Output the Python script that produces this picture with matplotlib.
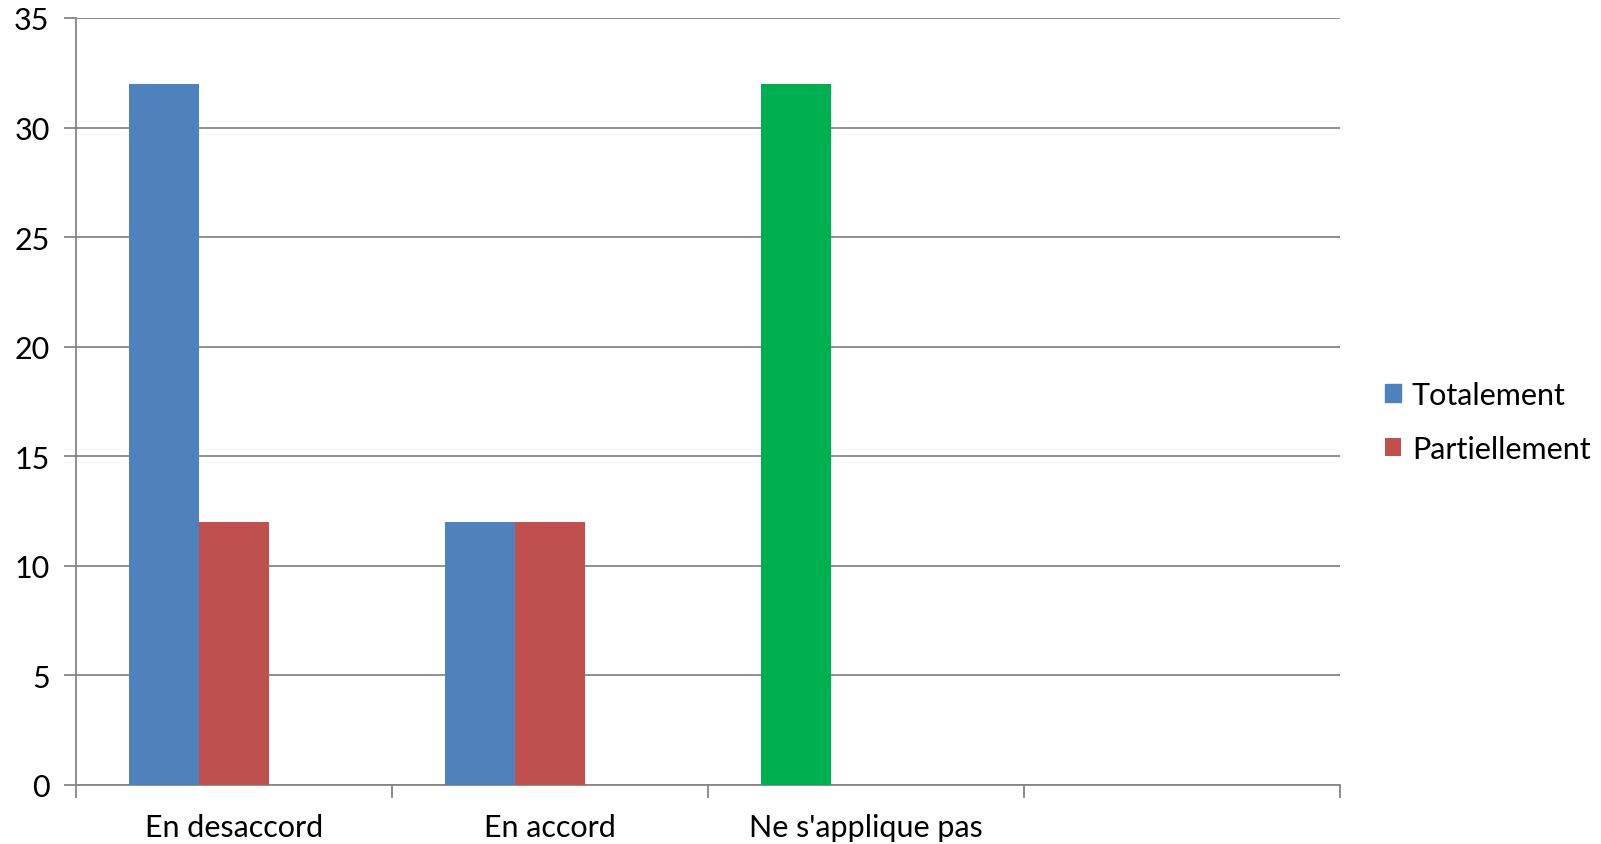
import numpy as np
import matplotlib.pyplot as plt

# Réponses par catégorie
categories = ["En desaccord", "En accord", "Ne s'applique pas", ""]
totalement = [32, 12, 32, 0]
partiellement = [12, 12, 0, 0]
couleurs_totalement = ["#4F81BD", "#4F81BD", "#00B050", "#4F81BD"]

plt.rcParams['font.family'] = ['Lato', 'DejaVu Sans']

fig = plt.figure(figsize=(16.01, 8.45), dpi=100)
ax = fig.add_axes([76 / 1601, 1 - 786 / 845, (1340 - 76) / 1601, (786 - 19) / 845])

x = np.arange(len(categories))
w = 0.2215
ax.bar(x - w, totalement, width=w, color=couleurs_totalement, label="Totalement", zorder=3)
ax.bar(x, partiellement, width=w, color="#C0504D", label="Partiellement", zorder=3)

ax.set_xlim(-0.5, len(categories) - 0.5)
ax.set_ylim(0, 35)
ax.set_yticks(np.arange(0, 36, 5))
ax.yaxis.grid(True, color="#868686", linewidth=1.3, zorder=0)

# graduations aux limites des catégories, libellés au centre
ax.set_xticks(np.arange(-0.5, len(categories), 1))
ax.set_xticklabels([])
ax.set_xticks(x, minor=True)
ax.set_xticklabels(categories, minor=True)
ax.tick_params(axis='x', which='major', length=9, width=1.3, color="#868686")
ax.tick_params(axis='x', which='minor', length=0, pad=20, labelsize=22)
ax.tick_params(axis='y', length=9, width=1.3, color="#868686", labelsize=22, pad=10)

for side in ['top', 'right']:
    ax.spines[side].set_visible(False)
for side in ['left', 'bottom']:
    ax.spines[side].set_color("#868686")
    ax.spines[side].set_linewidth(1.3)

handles, labels = ax.get_legend_handles_labels()
handles[0] = plt.Rectangle((0, 0), 1, 1, color="#4F81BD")
ax.legend(handles, labels, loc='center left', bbox_to_anchor=(1357 / 1601, 1 - 423 / 845),
          bbox_transform=fig.transFigure, frameon=False, fontsize=22,
          handlelength=0.55, handleheight=0.55, handletextpad=0.35, labelspacing=0.85)

fig.savefig("out.png", dpi=100)
